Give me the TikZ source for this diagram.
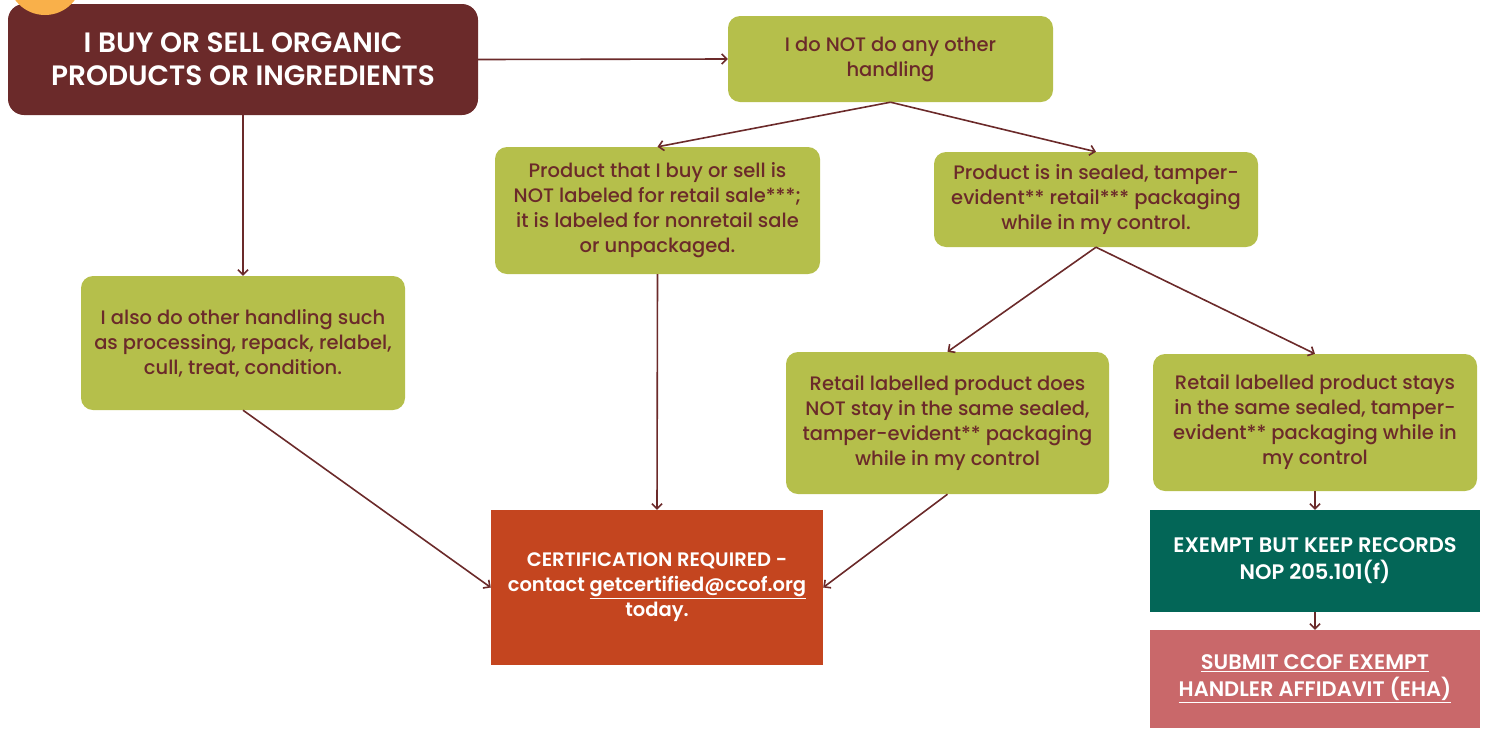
\documentclass[tikz,border=0pt]{standalone}
\usepackage{fontspec}
\setmainfont{Poppins}[UprightFont={* Medium}, BoldFont={* SemiBold}]
\usetikzlibrary{arrows.meta}
\definecolor{maroon}{HTML}{6B2A2A}
\definecolor{leaf}{HTML}{B5BF4B}
\definecolor{rust}{HTML}{C4451F}
\definecolor{pine}{HTML}{036657}
\definecolor{rose}{HTML}{C9686A}
\definecolor{sun}{HTML}{F9B04A}
\tikzset{
  greenbox/.style={fill=leaf, rounded corners=12pt, align=center, text=maroon,
    font=\fontsize{19.5}{25}\selectfont, inner sep=0pt},
  solidbox/.style={align=center, text=white, inner sep=0pt},
  conn/.style={draw=maroon, line width=1.6pt, -{Straight Barb[length=5pt,width=10pt]}}
}
\begin{document}
\begin{tikzpicture}[x=1pt,y=-1pt]
\useasboundingbox (0,0) rectangle (1486,729);
\node[fill=maroon, rounded corners=16pt, minimum width=470pt, minimum height=111pt, align=center, text=white,
  font=\bfseries\fontsize{28}{33}\selectfont, inner sep=0pt] (start) at (243,59.5)
  {I BUY OR SELL ORGANIC\\PRODUCTS OR INGREDIENTS};
\fill[sun] (45,-22) circle (37);
\node[greenbox, minimum width=325pt, minimum height=86pt] (nother) at (890.5,59)
  {I do NOT do any other\\handling};
\node[greenbox, minimum width=325pt, minimum height=127pt] (notlab) at (657.5,210.5)
  {Product that I buy or sell is\\NOT labeled for retail sale***;\\it is labeled for nonretail sale\\or unpackaged.};
\node[greenbox, minimum width=324pt, minimum height=95pt] (sealed) at (1096,199.5)
  {Product is in sealed, tamper-\\evident** retail*** packaging\\while in my control.};
\node[greenbox, minimum width=324pt, minimum height=134pt] (also) at (243,343)
  {I also do other handling such\\as processing, repack, relabel,\\cull, treat, condition.};
\node[greenbox, minimum width=323pt, minimum height=142pt] (notstay) at (947.5,423)
  {Retail labelled product does\\NOT stay in the same sealed,\\tamper-evident** packaging\\while in my control};
\node[greenbox, minimum width=324pt, minimum height=137pt] (stays) at (1315,422.5)
  {Retail labelled product stays\\in the same sealed, tamper-\\evident** packaging while in\\my control};
\node[solidbox, fill=rust, minimum width=332pt, minimum height=155pt, font=\bfseries\fontsize{19.5}{25}\selectfont] (cert) at (657,587.5)
  {CERTIFICATION REQUIRED -\\contact \underline{getcertified@ccof.org}\\today.};
\node[solidbox, fill=pine, minimum width=330pt, minimum height=102pt, font=\bfseries\fontsize{21}{27}\selectfont] (exempt) at (1315,561)
  {EXEMPT BUT KEEP RECORDS\\NOP 205.101(f)};
\node[solidbox, fill=rose, minimum width=330pt, minimum height=98pt, font=\bfseries\fontsize{21}{27}\selectfont] (submit) at (1315,679)
  {\underline{SUBMIT CCOF EXEMPT}\\\underline{HANDLER AFFIDAVIT (EHA)}};
\draw[conn] (start.east) -- (nother.west);
\draw[conn] (start.south) -- (also.north);
\draw[conn] (nother.south) -- (notlab.north);
\draw[conn] (nother.south) -- (sealed.north);
\draw[conn] (notlab.south) -- (cert.north);
\draw[conn] (sealed.south) -- (notstay.north);
\draw[conn] (sealed.south) -- (stays.north);
\draw[conn] (also.south) -- (cert.west);
\draw[conn] (notstay.south) -- (cert.east);
\draw[conn] (stays.south) -- (exempt.north);
\draw[conn] (exempt.south) -- (submit.north);
\end{tikzpicture}
\end{document}
